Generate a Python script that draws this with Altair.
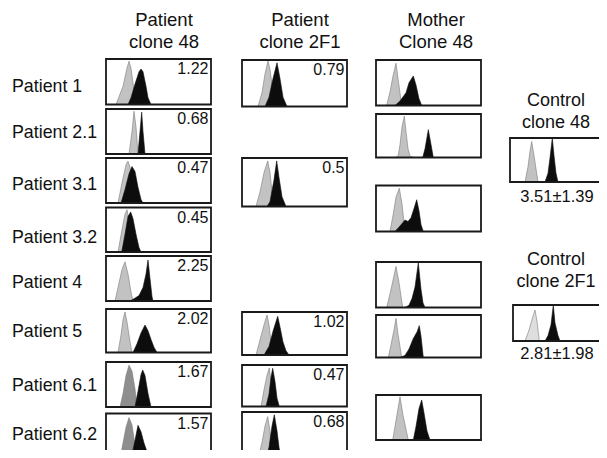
import altair as alt
import pandas as pd

# ---------------- data ----------------
ROW_LABELS = ["Patient 1", "Patient 2.1", "Patient 3.1", "Patient 3.2",
              "Patient 4", "Patient 5", "Patient 6.1", "Patient 6.2"]
COLUMN_HEADERS = [["Patient", "clone 48"], ["Patient", "clone 2F1"], ["Mother", "Clone 48"]]
CONTROL_HEADERS = [["Control", "clone 48"], ["Control", "clone 2F1"]]
CONTROL_STATS = ["3.51\u00b11.39", "2.81\u00b11.98"]

# ratio shown in the corner of each panel
VALUES_CLONE48 = {"Patient 1": 1.22, "Patient 2.1": 0.68, "Patient 3.1": 0.47, "Patient 3.2": 0.45,
                  "Patient 4": 2.25, "Patient 5": 2.02, "Patient 6.1": 1.67, "Patient 6.2": 1.57}
VALUES_CLONE2F1 = {"Patient 1": 0.79, "Patient 3.1": 0.5, "Patient 5": 1.02,
                   "Patient 6.1": 0.47, "Patient 6.2": 0.68}

# histogram outlines: (channel positions, relative counts) -- grey = control stain, black = specific
GREY = {
    "c48|Patient 1":   ([10, 17, 21, 23, 25, 28, 31], [0, .40, .80, .95, .80, .30, 0]),
    "c48|Patient 2.1": ([23, 26, 28, 30, 32], [0, .50, .95, .60, 0]),
    "c48|Patient 3.1": ([12, 16, 20, 22, 24, 27, 30], [0, .45, .85, .93, .80, .30, 0]),
    "c48|Patient 3.2": ([12, 16, 19, 21, 23, 26, 28], [0, .50, .85, .95, .70, .20, 0]),
    "c48|Patient 4":   ([9, 13, 16, 19, 22, 25, 27], [0, .40, .70, .87, .60, .20, 0]),
    "c48|Patient 5":   ([12, 15, 17, 19, 21, 24, 26], [0, .40, .75, .93, .70, .25, 0]),
    "c48|Patient 6.1": ([14, 17, 20, 23, 26, 29, 31], [0, .30, .70, .93, .80, .40, 0]),
    "c48|Patient 6.2": ([14, 17, 20, 23, 26, 29, 31], [0, .35, .70, .91, .75, .30, 0]),
    "2f1|Patient 1":   ([16, 20, 23, 26, 28, 31, 33], [0, .30, .70, .98, .80, .30, 0]),
    "2f1|Patient 3.1": ([14, 18, 22, 25.7, 28, 30, 32], [0, .30, .70, .94, .70, .30, 0]),
    "2f1|Patient 5":   ([14, 18, 22, 25, 27, 29, 31], [0, .35, .70, .93, .70, .30, 0]),
    "2f1|Patient 6.1": ([19, 22, 25, 27.3, 29, 31], [0, .40, .75, .93, .60, 0]),
    "2f1|Patient 6.2": ([16, 20, 23, 25.7, 28, 30], [0, .35, .70, .90, .60, 0]),
    "mot|1": ([10.7, 14, 17, 20, 22, 25.7], [0, .30, .65, .93, .60, 0]),
    "mot|2": ([20, 22.3, 24, 26, 28.3, 30, 32, 34, 38], [0, .05, .30, .70, .95, .60, .20, .03, 0]),
    "mot|3": ([14, 17, 20, 23.3, 26, 29], [0, .35, .75, .94, .60, 0]),
    "mot|4": ([10.7, 14, 17, 20, 23, 26.7], [0, .30, .60, .90, .55, 0]),
    "mot|5": ([12.3, 15, 18, 20, 22, 25.7], [0, .30, .65, .92, .55, 0]),
    "mot|6": ([16.7, 19, 22, 24, 27, 32.3], [0, .30, .70, .96, .55, 0]),
    "ctl|48":  ([15, 18, 20, 21.7, 24, 28], [0, .35, .70, .92, .60, 0]),
    "ctl|2F1": ([12, 16, 19, 22, 24, 26.3], [0, .30, .60, .86, .55, 0]),
}
BLACK = {
    "c48|Patient 1":   ([22, 25, 29, 33, 35, 37, 40, 42, 45], [0, .15, .45, .72, .78, .72, .40, .15, 0]),
    "c48|Patient 2.1": ([32, 34, 35.7, 37, 39], [0, .50, .93, .50, 0]),
    "c48|Patient 3.1": ([15, 19, 23, 26, 29, 32, 35, 37], [0, .30, .65, .81, .70, .35, .08, 0]),
    "c48|Patient 3.2": ([15.7, 19, 22, 24.7, 27, 30, 33, 35], [0, .40, .80, .90, .75, .40, .10, 0]),
    "c48|Patient 4":   ([24, 28, 33, 37, 40, 42, 44, 46, 47], [0, .05, .12, .30, .60, .91, .50, .10, 0]),
    "c48|Patient 5":   ([27, 31, 35, 39, 42, 45, 48, 51], [0, .20, .45, .63, .50, .30, .12, 0]),
    "c48|Patient 6.1": ([29, 32, 35, 36.7, 39, 42, 45], [0, .35, .72, .82, .70, .30, 0]),
    "c48|Patient 6.2": ([25, 28, 32, 35, 38, 42, 47], [0, .30, .74, .60, .35, .10, 0]),
    "2f1|Patient 1":   ([23, 27, 31, 35, 38, 41, 45], [0, .20, .60, .94, .60, .20, 0]),
    "2f1|Patient 3.1": ([25, 28, 32, 34.7, 37, 40, 44], [0, .10, .55, .94, .60, .20, 0]),
    "2f1|Patient 5":   ([22, 27, 31, 35.7, 38, 41, 44, 47], [0, .20, .55, .90, .65, .30, .10, 0]),
    "2f1|Patient 6.1": ([24, 27, 29, 30.7, 33, 35, 37.3], [0, .30, .70, .92, .60, .20, 0]),
    "2f1|Patient 6.2": ([24, 27, 30, 32.3, 35, 37, 39], [0, .25, .70, .94, .60, .25, 0]),
    "mot|1": ([19, 24, 27.3, 30, 33, 37.3, 40, 43, 45.7], [0, .10, .20, .28, .50, .65, .45, .15, 0]),
    "mot|2": ([46.7, 49, 52.3, 55, 57.3], [0, .20, .64, .30, 0]),
    "mot|3": ([19, 24, 29, 32, 35, 38, 40.7, 43, 45, 47.3], [0, .12, .25, .22, .30, .50, .69, .45, .15, 0]),
    "mot|4": ([29, 33, 36, 39, 42.3, 45, 47, 49], [0, .05, .20, .45, .98, .40, .10, 0]),
    "mot|5": ([24, 29, 33, 37.3, 41, 43.3, 45, 47.3], [0, .05, .20, .45, .60, .75, .50, 0]),
    "mot|6": ([37.3, 40, 43, 45.7, 48, 51, 54], [0, .30, .70, .89, .60, .20, 0]),
    "ctl|48":  ([35, 38, 40, 42.3, 44, 46, 48], [0, .20, .55, 1.0, .60, .20, 0]),
    "ctl|2F1": ([32, 35, 38, 40.3, 42, 45, 47], [0, .15, .45, 1.0, .50, .15, 0]),
}

# ---------------- layout (page geometry, not data) ----------------
W, H = 591, 442
PANEL_W = 105
COL_X = {"c48": 106, "2f1": 242, "mot": 376}
ROW_LABEL_BASE = [91.7, 138.3, 190, 242.7, 288.3, 336.7, 390.7, 440]
BOX_Y = {
    "c48|Patient 1": (59, 104.5), "c48|Patient 2.1": (109, 154), "c48|Patient 3.1": (158, 203),
    "c48|Patient 3.2": (207.5, 252), "c48|Patient 4": (256, 301), "c48|Patient 5": (309, 352.5),
    "c48|Patient 6.1": (362, 407), "c48|Patient 6.2": (413.5, 459),
    "2f1|Patient 1": (60, 106.5), "2f1|Patient 3.1": (158, 206.5), "2f1|Patient 5": (312, 355),
    "2f1|Patient 6.1": (365, 406.5), "2f1|Patient 6.2": (412, 459),
    "mot|1": (60, 105.5), "mot|2": (114, 157.5), "mot|3": (185.5, 231.5),
    "mot|4": (262, 307.5), "mot|5": (315, 357.5), "mot|6": (395, 440),
    "ctl|48": (138, 182), "ctl|2F1": (305, 341),
}
CTL_X = {"ctl|48": 510, "ctl|2F1": 513}
HEADER_CX = [164, 300, 436]
CTL_CX = 556
DARK_GREY = {"c48|Patient 6.1", "c48|Patient 6.2"}
FONT = "Liberation Sans"


def panel_x0(pid):
    col = pid.split("|")[0]
    return CTL_X[pid] if col == "ctl" else COL_X[col]


boxes, curves, texts = [], [], []
for pid, (y0, y1) in BOX_Y.items():
    x0 = panel_x0(pid)
    boxes.append({"x": x0, "x2": x0 + PANEL_W, "y": y0, "y2": y1})
    for kind, src in (("grey", GREY), ("black", BLACK)):
        xs, hs = src[pid]
        if kind == "black":
            fill = "#0d0d0d"
        elif pid in DARK_GREY:
            fill = "#8e8e8e"
        elif pid == "ctl|2F1":
            fill = "#dedede"
        else:
            fill = "#c2c2c2"
        for xv, hv in zip(xs, hs):
            curves.append({"cid": pid + kind, "kind": kind, "fill": fill,
                           "x": x0 + xv, "y": y1 - hv * (y1 - y0), "y2": y1})

for row, v in VALUES_CLONE48.items():
    y0, _ = BOX_Y["c48|" + row]
    texts.append({"x": COL_X["c48"] + PANEL_W - 2.5, "y": y0 + 15, "t": str(v), "s": 16, "a": "right"})
for row, v in VALUES_CLONE2F1.items():
    y0, _ = BOX_Y["2f1|" + row]
    texts.append({"x": COL_X["2f1"] + PANEL_W - 2.5, "y": y0 + 15, "t": str(v), "s": 16, "a": "right"})
for lab, yb in zip(ROW_LABELS, ROW_LABEL_BASE):
    texts.append({"x": 12, "y": yb, "t": lab, "s": 17.8, "a": "left"})
for (l1, l2), cx in zip(COLUMN_HEADERS, HEADER_CX):
    texts.append({"x": cx, "y": 26.3, "t": l1, "s": 18.5, "a": "center"})
    texts.append({"x": cx, "y": 48.3, "t": l2, "s": 18.5, "a": "center"})
for (l1, l2), (b1, b2) in zip(CONTROL_HEADERS, [(106, 128.3), (265, 286.7)]):
    texts.append({"x": CTL_CX, "y": b1, "t": l1, "s": 18, "a": "center"})
    texts.append({"x": CTL_CX, "y": b2, "t": l2, "s": 18, "a": "center"})
for st, yb in zip(CONTROL_STATS, [202.3, 359.3]):
    texts.append({"x": 557, "y": yb, "t": st, "s": 16.5, "a": "center"})

boxes = pd.DataFrame(boxes)
curves = pd.DataFrame(curves)
texts = pd.DataFrame(texts)

XS = alt.Scale(domain=[8, 8 + W], nice=False, zero=False)
YS = alt.Scale(domain=[8, 8 + H], reverse=True, nice=False, zero=False)


def X(f):
    return alt.X(f + ":Q", scale=XS, axis=None)


def Y(f):
    return alt.Y(f + ":Q", scale=YS, axis=None, stack=None)


def area_layer(kind):
    return alt.Chart(curves[curves.kind == kind]).mark_area(
        orient="vertical", interpolate="linear", strokeWidth=0.6,
        stroke="#7a7a7a" if kind == "grey" else "#0d0d0d"
    ).encode(x=X("x"), y=Y("y"), y2="y2:Q", detail="cid:N",
             fill=alt.Fill("fill:N", scale=None))


box_layer = alt.Chart(boxes).mark_rect(fill=None, stroke="#1a1a1a", strokeWidth=1.8).encode(
    x=X("x"), x2="x2:Q", y=Y("y"), y2="y2:Q")

text_layers = []
for a in ("left", "center", "right"):
    sub = texts[texts.a == a]
    for s in sorted(sub.s.unique()):
        text_layers.append(
            alt.Chart(sub[sub.s == s]).mark_text(
                align=a, baseline="alphabetic", font=FONT, fontSize=float(s), color="#111111"
            ).encode(x=X("x"), y=Y("y"), text="t:N"))

chart = alt.layer(area_layer("grey"), area_layer("black"), box_layer, *text_layers).properties(
    width=W, height=H, padding=0, autosize=alt.AutoSizeParams(type="none"), background="white"
).configure_view(stroke=None)

chart.save("out.html", embed_options={"renderer": "svg", "actions": False})
